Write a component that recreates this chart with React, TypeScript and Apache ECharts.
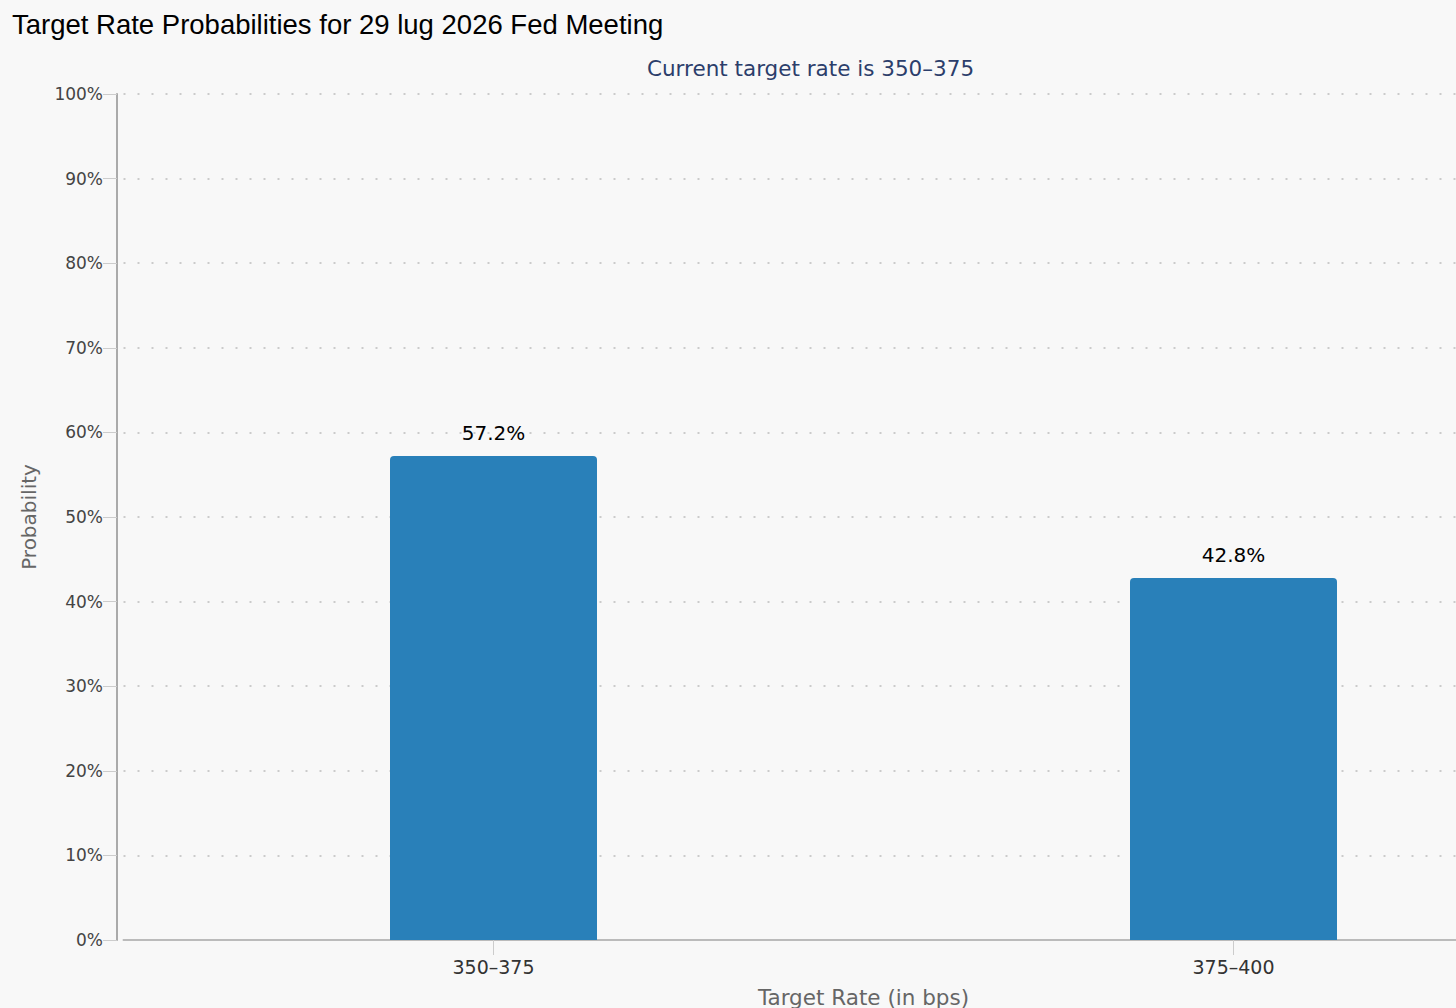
import React, { useEffect, useRef } from "react";
import * as echarts from "echarts";

const titleText = "Target Rate Probabilities for 29 lug 2026 Fed Meeting";
const subtitleText = "Current target rate is 350–375";
const categories = ["350–375", "375–400"];
const probabilities = [57.2, 42.8];
const yMin = 0;
const yMax = 100;
const yInterval = 10;

export default function App() {
  const ref = useRef<HTMLDivElement>(null);
  useEffect(() => {
    if (!ref.current) return;
    const chart = echarts.init(ref.current, undefined, { renderer: "svg" });
    const lucida = "'DejaVu Sans', 'Noto Sans', sans-serif";
    chart.setOption({
      animation: false,
      backgroundColor: "#f8f8f8",
      graphic: [
        {
          type: "text",
          left: 12,
          top: 10,
          style: {
            text: titleText,
            fontFamily: "'Liberation Sans', Arial, sans-serif",
            fontSize: 27.5,
            fill: "#000",
          },
        },
        {
          type: "text",
          x: 810.5,
          y: 68,
          style: {
            text: subtitleText,
            fontFamily: lucida,
            fontSize: 21.5,
            fill: "#2c3e6b",
            align: "center",
            verticalAlign: "middle",
          },
        },
      ],
      grid: {
        left: 123.5,
        top: 94,
        width: 1480,
        height: 846,
        containLabel: false,
        outerBoundsMode: "none",
      },
      xAxis: {
        type: "category",
        data: categories,
        boundaryGap: true,
        name: "Target Rate (in bps)",
        nameLocation: "middle",
        nameGap: 46,
        nameTextStyle: { fontFamily: lucida, fontSize: 21.5, color: "#666" },
        axisLine: { show: true, lineStyle: { color: "#bbb", width: 2 } },
        axisTick: { show: true, alignWithLabel: true, length: 15, lineStyle: { color: "#ccc", width: 1 } },
        axisLabel: { fontFamily: lucida, fontSize: 19, color: "#333", margin: 17 },
        splitLine: { show: false },
      },
      yAxis: {
        type: "value",
        min: yMin,
        max: yMax,
        interval: yInterval,
        offset: 6.5,
        name: "Probability",
        nameLocation: "middle",
        nameGap: 78,
        nameTextStyle: { fontFamily: lucida, fontSize: 20, color: "#666" },
        axisLine: { show: true, lineStyle: { color: "#aaa", width: 2 } },
        axisTick: { show: true, length: 14, lineStyle: { color: "#ccc", width: 1 } },
        axisLabel: { formatter: "{value}%", fontFamily: lucida, fontSize: 17, color: "#444", margin: 14 },
        splitLine: { show: true, lineStyle: { color: "#cbcbcb", width: 2, type: [2, 12] } },
      },
      series: [
        {
          type: "bar",
          data: probabilities,
          barWidth: 207,
          itemStyle: { color: "#2980b9", borderRadius: [4, 4, 0, 0] },
          label: {
            show: true,
            position: "top",
            distance: 13,
            formatter: (p: any) => p.value.toFixed(1) + "%",
            fontFamily: lucida,
            fontSize: 20,
            color: "#000",
          },
        },
      ],
    });
    return () => chart.dispose();
  }, []);
  return (
    <div
      ref={ref}
      style={{ position: "absolute", left: 0, top: 0, width: 1456, height: 1008 }}
    />
  );
}
